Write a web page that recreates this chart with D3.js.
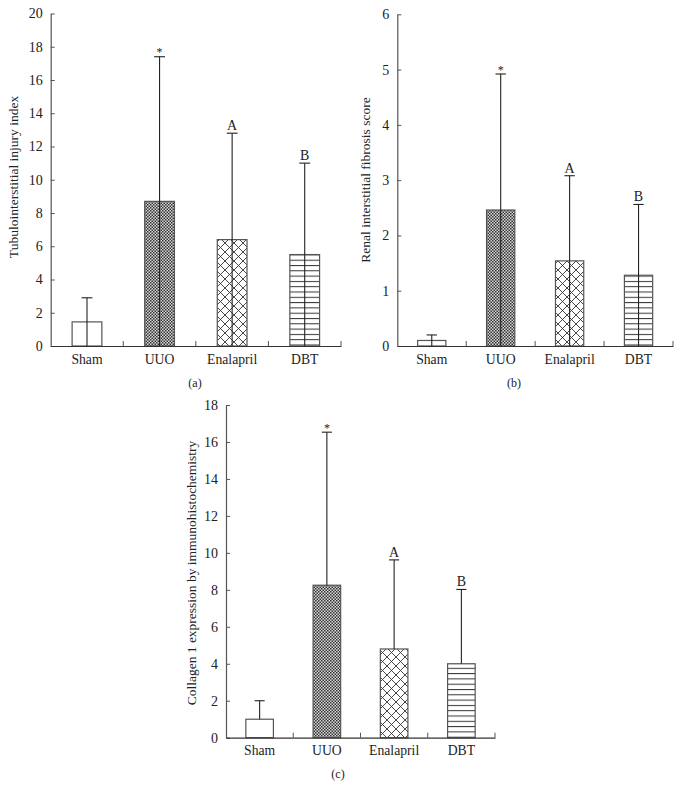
<!DOCTYPE html>
<html>
<head>
<meta charset="utf-8">
<script src="https://cdn.jsdelivr.net/npm/d3@7/dist/d3.min.js"></script>
<style>
  html, body { margin: 0; padding: 0; background: #fff; }
  svg { display: block; }
  text { font-family: "Liberation Serif", "DejaVu Serif", serif; fill: #222; }
</style>
</head>
<body>
<svg id="chart" width="680" height="800"></svg>
<script>
// ---- Data ----
const categories = ["Sham", "UUO", "Enalapril", "DBT"];
const markers = ["", "*", "A", "B"];

const injuryMeans = [1.45, 8.7, 6.4, 5.5];
const injuryErrors = [1.45, 8.7, 6.4, 5.5];
const injuryTicks = [0, 2, 4, 6, 8, 10, 12, 14, 16, 18, 20];

const fibrosisMeans = [0.1, 2.46, 1.54, 1.28];
const fibrosisErrors = [0.1, 2.46, 1.54, 1.28];
const fibrosisTicks = [0, 1, 2, 3, 4, 5, 6];

const collagenMeans = [1.0, 8.25, 4.8, 4.0];
const collagenErrors = [1.0, 8.28, 4.82, 4.02];
const collagenTicks = [0, 2, 4, 6, 8, 10, 12, 14, 16, 18];

const titles = ["Tubulointerstitial injury index", "Renal interstitial fibrosis score", "Collagen 1 expression by immunohistochemistry"];
const panelLabels = ["(a)", "(b)", "(c)"];

// ---- Layout ----
const svg = d3.select("#chart");
const fills = ["#fff", "url(#pUUO)", "url(#pEna)", "url(#pDBT)"];

const defs = svg.append("defs");
// dense checker
const p1 = defs.append("pattern").attr("id", "pUUO").attr("patternUnits", "userSpaceOnUse")
  .attr("width", 3).attr("height", 3);
p1.append("rect").attr("width", 3).attr("height", 3).attr("fill", "#d8d8d8");
p1.append("rect").attr("x", 0).attr("y", 0).attr("width", 1.5).attr("height", 1.5).attr("fill", "#333");
p1.append("rect").attr("x", 1.5).attr("y", 1.5).attr("width", 1.5).attr("height", 1.5).attr("fill", "#333");
// crosshatch
const p2 = defs.append("pattern").attr("id", "pEna").attr("patternUnits", "userSpaceOnUse")
  .attr("width", 9).attr("height", 9);
p2.append("rect").attr("width", 9).attr("height", 9).attr("fill", "#fff");
p2.append("path").attr("d", "M0,0L9,9M9,0L0,9M-1,8L1,10M8,-1L10,1M-1,1L1,-1M8,10L10,8")
  .attr("stroke", "#333").attr("stroke-width", 0.9);
// horizontal lines
const p3 = defs.append("pattern").attr("id", "pDBT").attr("patternUnits", "userSpaceOnUse")
  .attr("width", 10).attr("height", 5.3);
p3.append("rect").attr("width", 10).attr("height", 5.3).attr("fill", "#fff");
p3.append("line").attr("x1", 0).attr("x2", 10).attr("y1", 0.5).attr("y2", 0.5)
  .attr("stroke", "#333").attr("stroke-width", 1);

const panels = [
  { means: injuryMeans, errs: injuryErrors, ticks: injuryTicks, max: 20,
    x0: 50.7, x1: 341, yTop: 13.5, yBot: 346, titleX: 18, titleY: 177, through: true,
    label: panelLabels[0], labelX: 195, labelY: 387, title: titles[0] },
  { means: fibrosisMeans, errs: fibrosisErrors, ticks: fibrosisTicks, max: 6,
    x0: 397.3, x1: 673, yTop: 14.3, yBot: 346, titleX: 369.5, titleY: 180, through: true,
    label: panelLabels[1], labelX: 514, labelY: 387, title: titles[1] },
  { means: collagenMeans, errs: collagenErrors, ticks: collagenTicks, max: 18,
    x0: 226, x1: 495, yTop: 405, yBot: 737.7, titleX: 196, titleY: 573, through: false,
    label: panelLabels[2], labelX: 338, labelY: 778, title: titles[2] }
];

panels.forEach(p => {
  const g = svg.append("g");
  const x = d3.scaleBand().domain(categories).range([p.x0, p.x1]).padding(0);
  const y = d3.scaleLinear().domain([0, p.max]).range([p.yBot, p.yTop]);
  const bw = x.bandwidth() * 0.41;
  const cw = x.bandwidth() * 0.15;

  // bars
  g.selectAll("rect.bar").data(categories).join("rect")
    .attr("class", "bar")
    .attr("x", d => x(d) + (x.bandwidth() - bw) / 2)
    .attr("width", bw)
    .attr("y", (d, i) => y(p.means[i]))
    .attr("height", (d, i) => y(0) - y(p.means[i]))
    .attr("fill", (d, i) => fills[i])
    .attr("stroke", "#555")
    .attr("stroke-width", 1.2);

  // error bars
  categories.forEach((d, i) => {
    const cx = x(d) + x.bandwidth() / 2;
    const top = y(p.means[i] + p.errs[i]);
    g.append("line").attr("x1", cx).attr("x2", cx)
      .attr("y1", p.through ? y(0) : y(p.means[i])).attr("y2", top)
      .attr("stroke", "#222").attr("stroke-width", 1.1);
    g.append("line").attr("x1", cx - cw / 2).attr("x2", cx + cw / 2)
      .attr("y1", top).attr("y2", top)
      .attr("stroke", "#222").attr("stroke-width", 1.1);
    if (markers[i]) {
      const star = markers[i] === "*";
      g.append("text").attr("x", cx).attr("y", star ? top - 0.5 : top - 3)
        .attr("text-anchor", "middle")
        .style("font-size", star ? "12px" : "14px")
        .text(markers[i]);
    }
  });

  // y axis
  const yAxis = d3.axisLeft(y).tickValues(p.ticks).tickFormat(d3.format("d"))
    .tickSize(-4).tickPadding(8).tickSizeOuter(0);
  const ya = g.append("g").attr("transform", `translate(${p.x0},0)`).call(yAxis);
  ya.attr("font-size", null).attr("font-family", null);
  ya.select(".domain").attr("stroke", "#555").attr("stroke-width", 1.2);
  ya.selectAll(".tick line").attr("stroke", "#555").attr("stroke-width", 1);
  ya.selectAll(".tick text").style("font-size", "14px").attr("fill", "#222");

  // x axis baseline
  const xa = g.append("g").attr("transform", `translate(0,${p.yBot})`)
    .call(d3.axisBottom(x).tickSize(0).tickPadding(8));
  xa.attr("font-size", null).attr("font-family", null);
  xa.select(".domain").attr("stroke", "#333").attr("stroke-width", 1.2);
  xa.selectAll(".tick text").style("font-size", "13.7px").attr("fill", "#222");
  // separator ticks (pointing upward)
  const seps = categories.slice(1).map(c => x(c)).concat([p.x1]);
  g.selectAll("line.sep").data(seps).join("line")
    .attr("x1", d => d).attr("x2", d => d)
    .attr("y1", p.yBot).attr("y2", p.yBot - 5)
    .attr("stroke", "#555").attr("stroke-width", 1);

  // y title
  g.append("text")
    .attr("transform", `translate(${p.titleX},${p.titleY}) rotate(-90)`)
    .attr("text-anchor", "middle")
    .style("font-size", "13.5px")
    .text(p.title);

  // panel label
  g.append("text").attr("x", p.labelX).attr("y", p.labelY)
    .attr("text-anchor", "middle").style("font-size", "12px")
    .text(p.label);
});
</script>
</body>
</html>
